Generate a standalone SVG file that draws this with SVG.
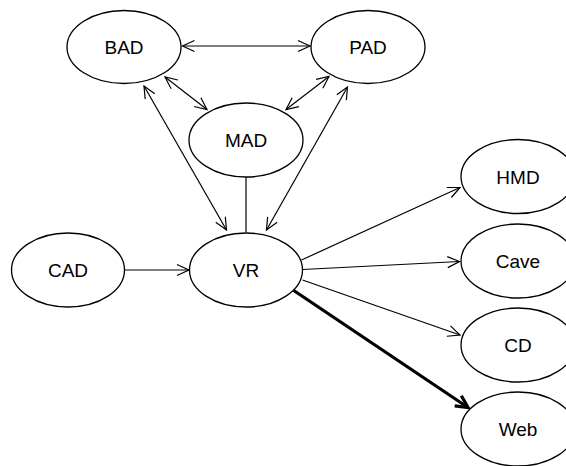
<svg xmlns="http://www.w3.org/2000/svg" width="566" height="466" viewBox="0 0 566 466">
<style>
.n ellipse{fill:#fff;stroke:#000;stroke-width:1.3}
.n text{font-family:"Liberation Sans",Arial,sans-serif;font-size:19px;text-anchor:middle;fill:#000}
.e line{stroke:#000;stroke-width:1.2;fill:none}
.e .thick{stroke-width:3.2}
</style>
<defs>
<marker id="a" markerUnits="userSpaceOnUse" markerWidth="16" markerHeight="14" viewBox="-14 -7 16 14" refX="0" refY="0" orient="auto-start-reverse">
<path d="M-12,-5.5 L0,0 L-12,5.5" fill="none" stroke="#000" stroke-width="1.2"/>
</marker>
<marker id="b" markerUnits="userSpaceOnUse" markerWidth="20" markerHeight="18" viewBox="-16 -9 20 18" refX="0" refY="0" orient="auto">
<path d="M-12,-6 L0,0 L-12,6" fill="none" stroke="#000" stroke-width="3.2" stroke-linejoin="miter"/>
</marker>
</defs>
<g class="e" id="edges">
<line x1="182.5" y1="46" x2="310" y2="46" marker-start="url(#a)" marker-end="url(#a)"/>
<line x1="165" y1="77" x2="207" y2="109.5" marker-start="url(#a)" marker-end="url(#a)"/>
<line x1="329" y1="76.5" x2="286" y2="109.5" marker-start="url(#a)" marker-end="url(#a)"/>
<line x1="144" y1="86" x2="226.5" y2="230" marker-start="url(#a)" marker-end="url(#a)"/>
<line x1="347.5" y1="87" x2="266.5" y2="230" marker-start="url(#a)" marker-end="url(#a)"/>
<line x1="246" y1="177" x2="246" y2="232.5"/>
<line x1="124.5" y1="270" x2="189" y2="270" marker-end="url(#a)"/>
<line x1="301.5" y1="260" x2="460" y2="187.5" marker-end="url(#a)"/>
<line x1="302.5" y1="269.5" x2="459.5" y2="261.5" marker-end="url(#a)"/>
<line x1="302.5" y1="280" x2="460" y2="335" marker-end="url(#a)"/>
<line class="thick" x1="293" y1="290" x2="468" y2="407.5" marker-end="url(#b)"/>
</g>
<g class="n" id="BAD"><ellipse cx="124" cy="47" rx="57" ry="36.5"/><text x="124" y="54">BAD</text></g>
<g class="n" id="PAD"><ellipse cx="368" cy="47" rx="57" ry="36.5"/><text x="368" y="54">PAD</text></g>
<g class="n" id="MAD"><ellipse cx="246" cy="140" rx="57" ry="37"/><text x="246" y="147">MAD</text></g>
<g class="n" id="CAD"><ellipse cx="68" cy="270" rx="56.5" ry="37"/><text x="68" y="277">CAD</text></g>
<g class="n" id="VR"><ellipse cx="246" cy="270" rx="56.5" ry="37"/><text x="246" y="277">VR</text></g>
<g class="n" id="HMD"><ellipse cx="518" cy="176.5" rx="57" ry="37"/><text x="518" y="183.5">HMD</text></g>
<g class="n" id="Cave"><ellipse cx="518" cy="261" rx="57" ry="37"/><text x="518" y="268">Cave</text></g>
<g class="n" id="CD"><ellipse cx="518" cy="345" rx="57" ry="37"/><text x="518" y="352">CD</text></g>
<g class="n" id="Web"><ellipse cx="518" cy="429" rx="57" ry="37"/><text x="518" y="436">Web</text></g>
</svg>
